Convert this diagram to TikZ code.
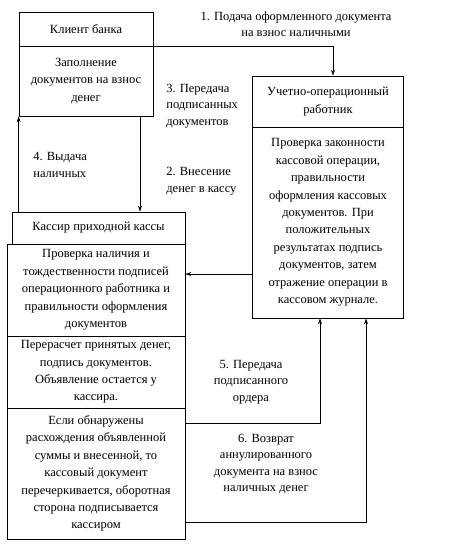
\documentclass[tikz,border=0pt]{standalone}
\usepackage{fontspec}
\setmainfont{Liberation Serif}
\usetikzlibrary{arrows.meta}

\begin{document}
\begin{tikzpicture}[x=1pt, y=-1pt, line width=0.7pt,
    box/.style={draw, align=center, inner sep=2pt, font=\fontsize{12.5}{17.4}\selectfont},
    lbl/.style={inner sep=0pt, font=\fontsize{12.5}{16.5}\selectfont},
    arr/.style={-{Stealth[length=6pt, width=4pt]}}]
    \useasboundingbox (0,0) rectangle (451,549);
    % left column
    \node[box, minimum width=134pt, minimum height=34pt] (client) at (86,29) {Клиент банка};
    \node[box, minimum width=134pt, minimum height=70pt] (fill) at (86,81) {Заполнение\\документов на взнос\\денег};
    \node[box, minimum width=173pt, minimum height=32pt] (cashier) at (98.5,228) {Кассир приходной кассы};
    \node[box, minimum width=178pt, minimum height=92pt] (checkcash) at (96,290) {Проверка наличия и\\тождественности подписей\\операционного работника и\\правильности оформления\\документов};
    \node[box, minimum width=178pt, minimum height=72pt] (recount) at (96,372) {Перерасчет принятых денег,\\подпись документов.\\Объявление остается у\\кассира.};
    \node[box, minimum width=178pt, minimum height=131pt] (mismatch) at (96,473.5) {Если обнаружены\\расхождения объявленной\\суммы и внесенной, то\\кассовый документ\\перечеркивается, оборотная\\сторона подписывается\\кассиром};
    % right column
    \node[box, minimum width=151pt, minimum height=51pt] (worker) at (328,101.5) {Учетно-операционный\\работник};
    \node[box, minimum width=151pt, minimum height=191pt] (check) at (328,222.5) {Проверка законности\\кассовой операции,\\правильности\\оформления кассовых\\документов. При\\положительных\\результатах подпись\\документов, затем\\отражение операции в\\кассовом журнале.};
    % labels
    \node[lbl, align=center] (lab1) at (296,24) {1. Подача оформленного документа\\на взнос наличными};
    \node[lbl, align=left, anchor=west] (lab3) at (166,106) {3. Передача\\подписанных\\документов};
    \node[lbl, align=left, anchor=west] (lab2) at (166,181) {2. Внесение\\денег в кассу};
    \node[lbl, align=left, anchor=west] (lab4) at (33,165) {4. Выдача\\наличных};
    \node[lbl, align=center] (lab5) at (251,382) {5. Передача\\подписанного\\ордера};
    \node[lbl, align=center] (lab6) at (266,464) {6. Возврат\\аннулированного\\документа на взнос\\наличных денег};
    % connectors
    \coordinate (c1) at (333,0);
    \coordinate (c2) at (140,0);
    \coordinate (c3) at (0,274);
    \coordinate (c5) at (320,423);
    \coordinate (c6) at (366,522);
    \draw[arr] (client.south east) -| (c1 |- worker.north);
    \draw[arr] (c2 |- fill.south) -- (c2 |- cashier.north);
    \draw[arr] (cashier.north -| fill.west) -- (fill.south west);
    \draw[arr] (check.west |- c3) -- (checkcash.east |- c3);
    \draw[arr] (mismatch.east |- c5) -| (c5 |- check.south);
    \draw[arr] (mismatch.east |- c6) -| (c6 |- check.south);
\end{tikzpicture}
\end{document}
